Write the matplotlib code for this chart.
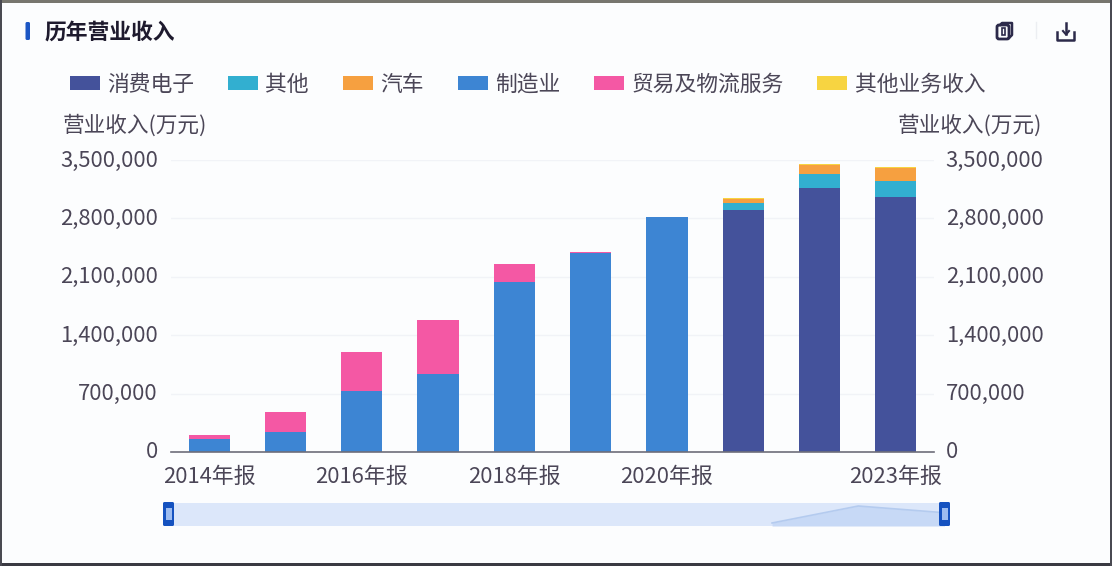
import matplotlib
matplotlib.use('Agg')
import matplotlib.pyplot as plt
import numpy as np
from matplotlib.patches import Rectangle, FancyBboxPatch, Patch
from matplotlib.ticker import FuncFormatter
from matplotlib.transforms import ScaledTranslation

plt.rcParams['font.family'] = ['Noto Sans CJK SC', 'DejaVu Sans']

W, H = 1112, 566

years = ['2014年报', '2015年报', '2016年报', '2017年报', '2018年报',
         '2019年报', '2020年报', '2021年报', '2022年报', '2023年报']
shown_labels = ['2014年报', '', '2016年报', '', '2018年报', '', '2020年报', '', '', '2023年报']
yticks = [0, 700000, 1400000, 2100000, 2800000, 3500000]

consumer = [0, 0, 0, 0, 0, 0, 0, 2900000, 3165000, 3060000]
other = [0, 0, 0, 0, 0, 0, 0, 85000, 170000, 190000]
auto = [0, 0, 0, 0, 0, 0, 0, 50000, 105000, 160000]
manufacturing = [150000, 240000, 732000, 936000, 2040000, 2385000, 2820000, 0, 0, 0]
trade = [54000, 240000, 468000, 648000, 216000, 12000, 0, 0, 0, 0]
other_business = [0, 0, 0, 0, 0, 0, 0, 5000, 10000, 5000]

names = ['消费电子', '其他', '汽车', '制造业', '贸易及物流服务', '其他业务收入']
series = [consumer, other, auto, manufacturing, trade, other_business]
colors = ['#44529b', '#32afd0', '#f6a040', '#3d85d3', '#f458a4', '#f7d441']

TEXT = '#4b4657'
BG = '#fcfdfe'
FS = 15.8


def box(x0, y_top, x1, y_bottom):
    # pixel box -> figure fraction
    return [x0 / W, 1 - y_bottom / H, (x1 - x0) / W, (y_bottom - y_top) / H]


fig = plt.figure(figsize=(W / 100, H / 100), dpi=100, facecolor=BG)

# page furniture, in pixel coordinates
bg = fig.add_axes([0, 0, 1, 1])
bg.set_xlim(0, W)
bg.set_ylim(H, 0)
bg.axis('off')
bg.add_patch(Rectangle((0, 0), W, 3, color='#77766e', lw=0))
bg.add_patch(Rectangle((0, H - 3), W, 3, color='#3a3a42', lw=0))
bg.add_patch(Rectangle((0, 0), 2, H, color='#4a4a52', lw=0))
bg.add_patch(Rectangle((W - 2, 0), 2, H, color='#4a4a52', lw=0))
bg.add_patch(FancyBboxPatch((25.5, 22), 4.5, 18, boxstyle='round,pad=0,rounding_size=1.5',
                            color='#1c56c4', lw=0))
bg.text(45, 32, '历年营业收入', fontsize=15.7, fontweight='bold', color='#1e1a2e',
        ha='left', va='center')

# copy icon
ic = '#2c2a4a'
bg.add_patch(FancyBboxPatch((997, 25), 12, 14, boxstyle='round,pad=0,rounding_size=2',
                            fc='none', ec=ic, lw=2))
bg.plot([1000, 1002, 1012, 1012, 1009], [25, 23, 23, 35, 38], color=ic, lw=1.8)
bg.add_patch(Rectangle((1002, 28), 3, 7, fc='none', ec=ic, lw=1.2))
bg.plot([1035.5, 1035.5], [22, 38], color='#eceef2', lw=1)
# download icon
bg.plot([1066, 1066], [23, 34], color=ic, lw=1.8)
bg.plot([1063, 1066, 1069], [31, 34.5, 31], color=ic, lw=1.5)
bg.plot([1057, 1057, 1074, 1074], [32, 39.5, 39.5, 32], color=ic, lw=1.8)

# main chart
ax = fig.add_axes(box(171, 160, 934, 452))
ax.patch.set_alpha(0)
x = np.arange(len(years))
bottom = np.zeros(len(years))
for vals, name, c in zip(series, names, colors):
    ax.bar(x, vals, 0.54, bottom=bottom, color=c, label=name, zorder=3)
    bottom += np.array(vals)

ax.set_xlim(-0.5, 9.5)
ax.set_ylim(0, 3500000)
ax.set_yticks(yticks)
ax.yaxis.set_major_formatter(FuncFormatter(lambda v, p: format(int(v), ',')))
ax.set_xticks(x)
ax.set_xticklabels(shown_labels)
ax.tick_params(axis='both', length=0, labelsize=FS, labelcolor=TEXT)
ax.tick_params(axis='x', pad=10)
ax.tick_params(axis='y', pad=9.5)
ax.grid(axis='y', color='#f1f3f7', lw=1, zorder=0)
for s in ['top', 'left', 'right']:
    ax.spines[s].set_visible(False)
ax.spines['bottom'].set_color('#6e6e7a')
ax.spines['bottom'].set_linewidth(1.2)
ax.spines['bottom'].set_zorder(4)

ax2 = ax.twinx()
ax2.set_ylim(0, 3500000)
ax2.set_yticks(yticks)
ax2.yaxis.set_major_formatter(FuncFormatter(lambda v, p: format(int(v), ',')))
ax2.tick_params(axis='y', length=0, labelsize=FS, labelcolor=TEXT, pad=8.5)
for s in ['top', 'left', 'right', 'bottom']:
    ax2.spines[s].set_visible(False)

# value labels sit a little above their gridlines
lift = ScaledTranslation(0, 2 / 100, fig.dpi_scale_trans)
for lab in ax.get_yticklabels():
    lab.set_transform(lab.get_transform() + lift)
for lab in ax2.get_yticklabels():
    lab.set_transform(lab.get_transform() + lift)

bg.text(63, 125.5, '营业收入(万元)', fontsize=15.6, color=TEXT, ha='left', va='center')
bg.text(1042, 125.5, '营业收入(万元)', fontsize=15.6, color=TEXT, ha='right', va='center')

handles = [Patch(facecolor=c, label=n) for c, n in zip(colors, names)]
fig.legend(handles=handles, loc='center left', bbox_to_anchor=(70 / W, 1 - 85 / H), ncol=6,
           frameon=False, fontsize=15.7, labelcolor=TEXT, handlelength=1.375, handleheight=0.62,
           handletextpad=0.33, columnspacing=1.56, borderpad=0, borderaxespad=0)

# range slider under the chart
sl = fig.add_axes(box(168.5, 503, 944.5, 526))
sl.set_facecolor('#dce7fa')
sl.set_xlim(0, 9)
sl.set_ylim(2853000, 3212000)
sl.set_xticks([])
sl.set_yticks([])
for s in sl.spines.values():
    s.set_visible(False)
sl.fill_between(x[7:], consumer[7:], 2853000, color='#c7d9f6', lw=0)
sl.plot(x[7:], consumer[7:], color='#b4cbef', lw=1.2)

bg.set_zorder(0)
sl.set_zorder(1)
ax.set_zorder(2)
ax2.set_zorder(3)

# handles need to sit over the slider band
top = fig.add_axes([0, 0, 1, 1])
top.set_xlim(0, W)
top.set_ylim(H, 0)
top.axis('off')
top.set_zorder(4)
for hx in [168.5, 944.5]:
    top.add_patch(FancyBboxPatch((hx - 5.5, 502), 11, 24, boxstyle='round,pad=0,rounding_size=1.5',
                                 color='#1552c0', lw=0))
    top.add_patch(Rectangle((hx - 3, 508), 6, 12, color='#9dbcf0', lw=0))

fig.savefig('out.png', dpi=100, facecolor=BG)
